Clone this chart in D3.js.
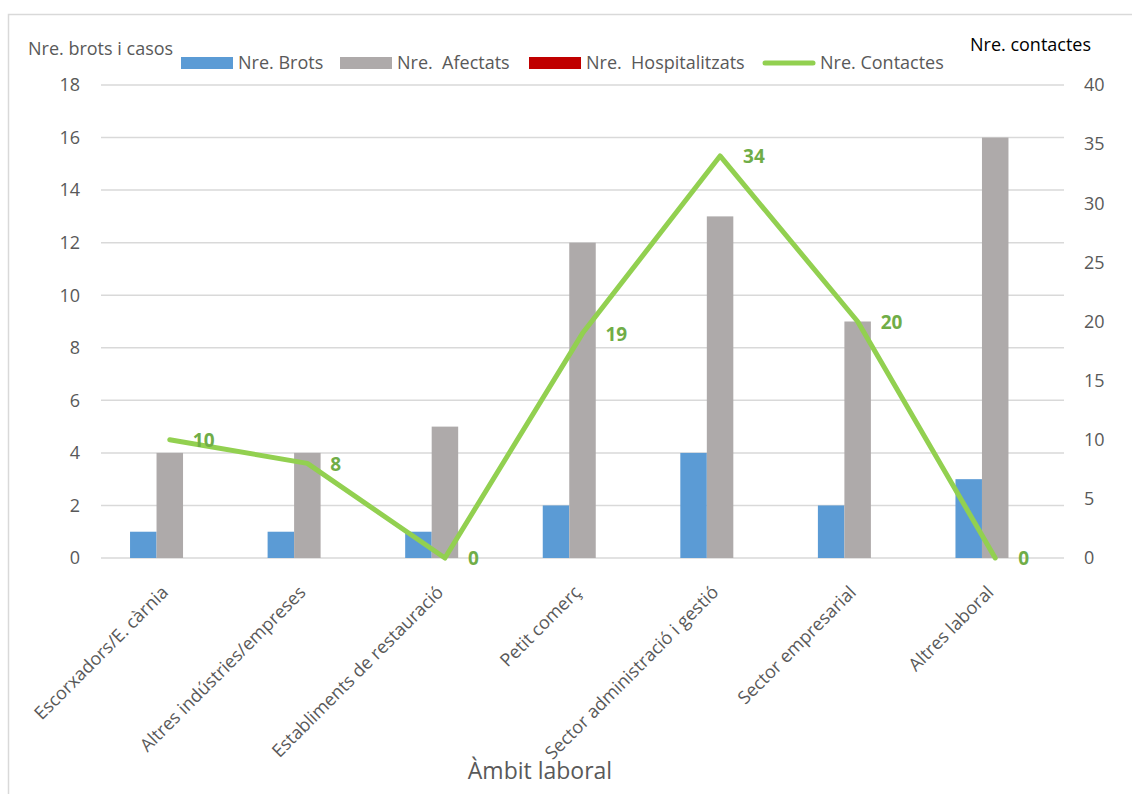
<!DOCTYPE html>
<html><head><meta charset="utf-8">
<script src="https://cdn.jsdelivr.net/npm/d3@7"></script>
<style>body{margin:0;background:#fff}text{font-family:"Open Sans",Lato,sans-serif;white-space:pre}</style>
</head><body><svg id="c" width="1132" height="794"></svg>
<script>
const categories = ["Escorxadors/E. càrnia","Altres indústries/empreses","Establiments de restauració","Petit comerç","Sector administració i gestió","Sector empresarial","Altres laboral"];
const brots = [1,1,1,2,4,2,3];
const afectats = [4,4,5,12,13,9,16];
const hospitalitzats = [0,0,0,0,0,0,0];
const contactes = [10,8,0,19,34,20,0];
const leftTicks = [0,2,4,6,8,10,12,14,16,18];
const rightTicks = [0,5,10,15,20,25,30,35,40];
const seriesNames = ["Nre. Brots","Nre.  Afectats","Nre.  Hospitalitzats","Nre. Contactes"];
const colors = ["#5B9BD5","#AEAAAA","#C00000","#92D050"];

const svg = d3.select("#c");
const L=101,R=1064,T=85,B=558;
const FS=18;
svg.append("rect").attr("x",8.5).attr("y",14.5).attr("width",1140).attr("height",800).attr("fill","#fff").attr("stroke","#d9d9d9").attr("stroke-width",1.5);

const x = d3.scaleBand().domain(categories).range([L,R]);
const yL = d3.scaleLinear().domain([0,18]).range([B,T]);
const yR = d3.scaleLinear().domain([0,40]).range([B,T]);
const bw = 26.5;

svg.append("g").selectAll("line").data(leftTicks).join("line")
  .attr("x1",L).attr("x2",R).attr("y1",d=>yL(d)).attr("y2",d=>yL(d))
  .attr("stroke","#d9d9d9").attr("stroke-width",1.5);

svg.append("g").selectAll("text").data(leftTicks).join("text")
  .attr("x",80).attr("y",d=>yL(d)).attr("dy","0.35em").attr("text-anchor","end")
  .attr("font-size",FS).attr("fill","#595959").text(d=>d);
svg.append("g").selectAll("text").data(rightTicks).join("text")
  .attr("x",1084).attr("y",d=>yR(d)).attr("dy","0.35em").attr("text-anchor","start")
  .attr("font-size",FS).attr("fill","#595959").text(d=>d);

const barSeries=[brots,afectats,hospitalitzats];
barSeries.forEach((arr,si)=>{
  svg.append("g").selectAll("rect").data(arr).join("rect")
    .attr("x",(d,i)=>x(categories[i])+x.bandwidth()/2-1.5*bw+si*bw)
    .attr("width",bw)
    .attr("y",d=>yL(d)).attr("height",d=>B-yL(d))
    .attr("fill",colors[si]);
});

const line = d3.line().x((d,i)=>x(categories[i])+x.bandwidth()/2).y(d=>yR(d));
svg.append("path").datum(contactes).attr("d",line).attr("fill","none")
  .attr("stroke",colors[3]).attr("stroke-width",5).attr("stroke-linejoin","round").attr("stroke-linecap","round");
svg.append("g").selectAll("text").data(contactes).join("text")
  .attr("x",(d,i)=>x(categories[i])+x.bandwidth()/2+23)
  .attr("y",d=>yR(d)).attr("dy","0.38em")
  .attr("font-size",19).attr("font-weight","bold").attr("fill","#70AD47").text(d=>d);

svg.append("g").selectAll("text").data(categories).join("text")
  .attr("transform",(d)=>`translate(${x(d)+x.bandwidth()/2-5},${B+31}) rotate(-45)`)
  .attr("text-anchor","end").attr("dy","0.35em")
  .attr("font-size",FS).attr("fill","#595959").text(d=>d);

svg.append("text").attr("x",28).attr("y",55).attr("font-size",FS).attr("fill","#595959").text("Nre. brots i casos");
svg.append("text").attr("x",970).attr("y",51).attr("font-size",FS).attr("fill","#000").text("Nre. contactes");
svg.append("text").attr("x",540).attr("y",779).attr("text-anchor","middle").attr("font-size",23).attr("fill","#595959").text("Àmbit laboral");

const legX=[181,340,529,763];
seriesNames.forEach((n,i)=>{
  const g=svg.append("g");
  if(i<3) g.append("rect").attr("x",legX[i]).attr("y",57).attr("width",52).attr("height",12).attr("fill",colors[i]);
  else g.append("line").attr("x1",legX[i]+2).attr("x2",legX[i]+50).attr("y1",63).attr("y2",63).attr("stroke",colors[i]).attr("stroke-width",5).attr("stroke-linecap","round");
  g.append("text").attr("x",legX[i]+57).attr("y",63).attr("dy","0.35em").attr("font-size",FS).attr("fill","#595959").text(n);
});
</script></body></html>
